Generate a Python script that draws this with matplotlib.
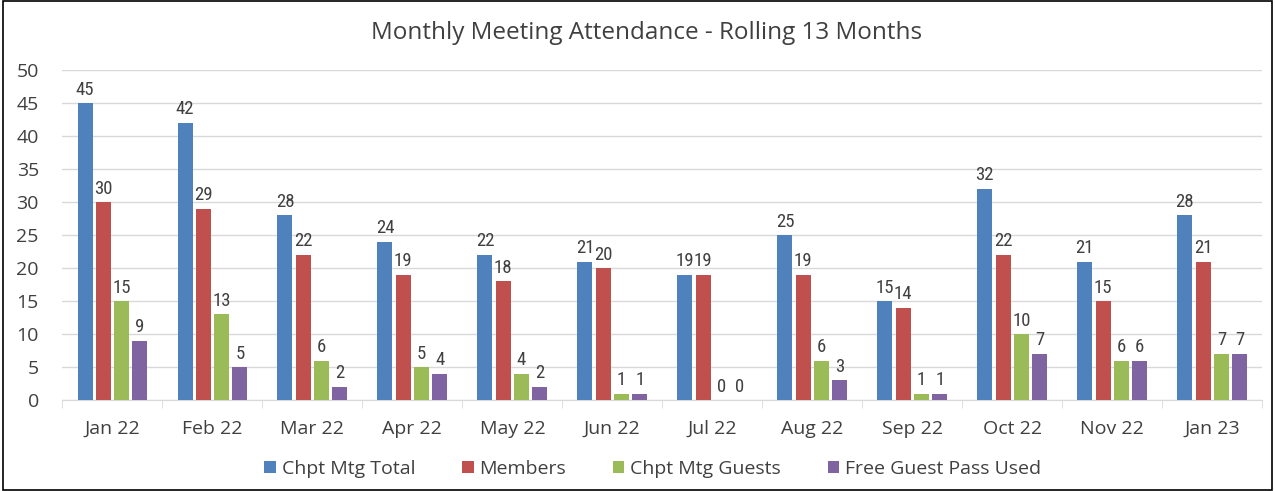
import numpy as np
import matplotlib.pyplot as plt
from matplotlib.patches import Rectangle

months = ['Jan 22', 'Feb 22', 'Mar 22', 'Apr 22', 'May 22', 'Jun 22',
          'Jul 22', 'Aug 22', 'Sep 22', 'Oct 22', 'Nov 22', 'Jan 23']
total = [45, 42, 28, 24, 22, 21, 19, 25, 15, 32, 21, 28]
members = [30, 29, 22, 19, 18, 20, 19, 19, 14, 22, 15, 21]
guests = [15, 13, 6, 5, 4, 1, 0, 6, 1, 10, 6, 7]
free_pass = [9, 5, 2, 4, 2, 1, 0, 3, 1, 7, 6, 7]

series = [('Chpt Mtg Total', total, '#4F81BD'),
          ('Members', members, '#C0504D'),
          ('Chpt Mtg Guests', guests, '#9BBB59'),
          ('Free Guest Pass Used', free_pass, '#8064A2')]

plt.rcParams['font.family'] = ['Open Sans', 'DejaVu Sans']
txt = '#404040'
fs = 14

fig = plt.figure(figsize=(12.75, 4.91), dpi=100)
ax = fig.add_axes([0.049, 0.185, 0.941, 0.672])

x = np.arange(len(months))
w = 0.15
step = 0.183
for i, (name, vals, col) in enumerate(series):
    pos = x + (i - 1.5) * step
    ax.bar(pos, vals, width=w, color=col, label=name, zorder=3)
    for p, v in zip(pos, vals):
        ax.text(p, v + 0.7, str(v), ha='center', va='bottom', fontsize=13.5,
                color=txt, zorder=4, family=['Roboto Condensed', 'Open Sans'])

ax.set_xlim(-0.5, len(months) - 0.5)
ax.set_ylim(0, 50)
ax.set_yticks(range(0, 51, 5))
ax.yaxis.grid(True, color='#D9D9D9', linewidth=1, zorder=0)
ax.set_axisbelow(True)
for s in ['left', 'right', 'top']:
    ax.spines[s].set_visible(False)
ax.spines['bottom'].set_color('#D9D9D9')
ax.tick_params(axis='y', length=0, labelsize=fs, labelcolor=txt, pad=17)
ax.set_xticks(x)
ax.set_xticklabels(months)
ax.tick_params(axis='x', which='major', length=0, labelsize=fs, labelcolor=txt, pad=14)
ax.set_xticks(np.arange(-0.5, len(months)), minor=True)
ax.tick_params(axis='x', which='minor', length=6, color='#D9D9D9')

fig.text(0.507, 0.932, 'Monthly Meeting Attendance - Rolling 13 Months',
         ha='center', va='center', fontsize=17.5, color=txt)

ax.legend(loc='center', bbox_to_anchor=(0.492, -0.208), ncol=4, frameon=False,
          fontsize=fs, labelcolor=txt, handlelength=0.6, handleheight=0.6,
          handletextpad=0.3, columnspacing=2.4)

fig.patches.append(Rectangle((0.002, 0.002), 0.996, 0.996, transform=fig.transFigure,
                             fill=False, edgecolor='black', linewidth=1.2))

fig.savefig('out.png', dpi=100)
